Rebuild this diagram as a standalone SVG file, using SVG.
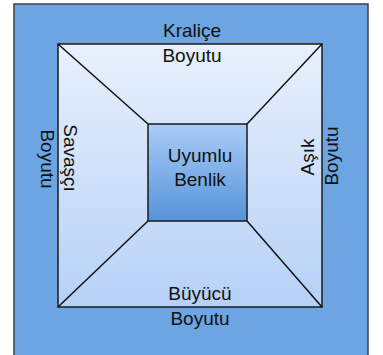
<svg xmlns="http://www.w3.org/2000/svg" width="383" height="355" viewBox="0 0 383 355">
<defs>
<linearGradient id="gInner" x1="0" y1="0" x2="0" y2="1">
<stop offset="0" stop-color="#E8F0FC"/>
<stop offset="1" stop-color="#B6D1F7"/>
</linearGradient>
<linearGradient id="gCenter" x1="0" y1="0" x2="0" y2="1">
<stop offset="0" stop-color="#AACCF8"/>
<stop offset="1" stop-color="#5693DA"/>
</linearGradient>
<style>
.t{font-family:"Liberation Sans",Arial,sans-serif;font-size:19px;fill:#111;text-anchor:middle}
.ln{stroke:#111;stroke-width:1.5;fill:none}
</style>
</defs>
<g id="outer">
<rect x="14" y="4" width="354" height="360" fill="#6CA5E1" stroke="#404040" stroke-width="1.5"/>
</g>
<g id="inner">
<rect x="58" y="44" width="264" height="263" fill="url(#gInner)" stroke="#1a1a1a" stroke-width="1.5"/>
</g>
<g id="connectors">
<line class="ln" x1="58" y1="44" x2="148" y2="124"/>
<line class="ln" x1="322" y1="44" x2="247" y2="124"/>
<line class="ln" x1="58" y1="307" x2="148" y2="221"/>
<line class="ln" x1="322" y1="307" x2="247" y2="221"/>
</g>
<g id="center">
<rect x="148" y="124" width="99" height="97" fill="url(#gCenter)" stroke="#1a1a1a" stroke-width="1.5"/>
<text class="t" x="200" y="162">Uyumlu</text>
<text class="t" x="200" y="186">Benlik</text>
</g>
<g id="top">
<text class="t" x="192" y="37">Kraliçe</text>
<text class="t" x="192" y="62">Boyutu</text>
</g>
<g id="bottom">
<text class="t" x="200" y="300">Büyücü</text>
<text class="t" x="200" y="325">Boyutu</text>
</g>
<g id="left">
<text class="t" transform="translate(64,158) rotate(90)">Savaşçı</text>
<text class="t" transform="translate(41,159) rotate(90)">Boyutu</text>
</g>
<g id="right">
<text class="t" transform="translate(314,157) rotate(-90)">Aşık</text>
<text class="t" transform="translate(338,156) rotate(-90)">Boyutu</text>
</g>
</svg>
